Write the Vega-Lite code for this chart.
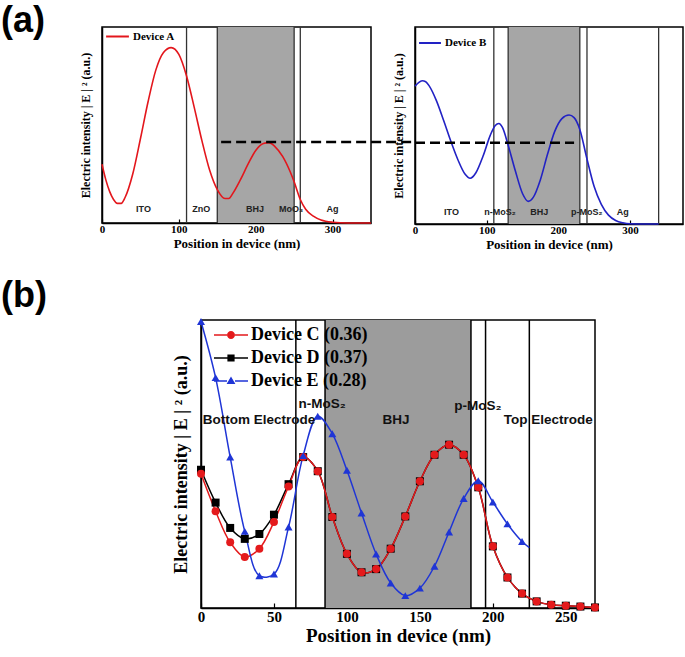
{
  "$schema": "https://vega.github.io/schema/vega-lite/v6.json",
  "padding": {"left": 1, "top": 3, "right": 0, "bottom": 0},
  "background": "white",
  "config": {
    "view": {"stroke": "black", "strokeWidth": 1.5},
    "axis": {"grid": false, "domainColor": "black", "domainWidth": 1.5, "tickColor": "black", "tickWidth": 1.2,
      "labelFont": "Liberation Serif", "labelFontWeight": "bold", "labelColor": "black",
      "titleFont": "Liberation Serif", "titleFontWeight": "bold", "titleColor": "black", "labelAngle": 0, "labelFlush": false, "labelOverlap": false}
  },
  "datasets": {
    "devA": [
      {"device": "Device A", "x": 0, "y": 0.30}, {"device": "Device A", "x": 5, "y": 0.22}, {"device": "Device A", "x": 10, "y": 0.16},
      {"device": "Device A", "x": 15, "y": 0.12}, {"device": "Device A", "x": 20, "y": 0.10}, {"device": "Device A", "x": 25, "y": 0.10},
      {"device": "Device A", "x": 30, "y": 0.13}, {"device": "Device A", "x": 40, "y": 0.25}, {"device": "Device A", "x": 50, "y": 0.43},
      {"device": "Device A", "x": 60, "y": 0.62}, {"device": "Device A", "x": 70, "y": 0.78}, {"device": "Device A", "x": 80, "y": 0.87},
      {"device": "Device A", "x": 90, "y": 0.895}, {"device": "Device A", "x": 100, "y": 0.86}, {"device": "Device A", "x": 110, "y": 0.75},
      {"device": "Device A", "x": 120, "y": 0.59}, {"device": "Device A", "x": 130, "y": 0.42}, {"device": "Device A", "x": 140, "y": 0.27},
      {"device": "Device A", "x": 150, "y": 0.17}, {"device": "Device A", "x": 160, "y": 0.125}, {"device": "Device A", "x": 165, "y": 0.125},
      {"device": "Device A", "x": 170, "y": 0.15}, {"device": "Device A", "x": 180, "y": 0.22}, {"device": "Device A", "x": 190, "y": 0.30},
      {"device": "Device A", "x": 200, "y": 0.37}, {"device": "Device A", "x": 210, "y": 0.405}, {"device": "Device A", "x": 217, "y": 0.41},
      {"device": "Device A", "x": 225, "y": 0.39}, {"device": "Device A", "x": 235, "y": 0.34}, {"device": "Device A", "x": 245, "y": 0.26},
      {"device": "Device A", "x": 250, "y": 0.21}, {"device": "Device A", "x": 258, "y": 0.12}, {"device": "Device A", "x": 265, "y": 0.07},
      {"device": "Device A", "x": 275, "y": 0.035}, {"device": "Device A", "x": 285, "y": 0.015}, {"device": "Device A", "x": 300, "y": 0.004},
      {"device": "Device A", "x": 320, "y": 0.0}, {"device": "Device A", "x": 350, "y": 0.0}
    ],
    "devB": [
      {"device": "Device B", "x": 0, "y": 0.70}, {"device": "Device B", "x": 5, "y": 0.718}, {"device": "Device B", "x": 10, "y": 0.727},
      {"device": "Device B", "x": 15, "y": 0.722}, {"device": "Device B", "x": 20, "y": 0.70}, {"device": "Device B", "x": 30, "y": 0.625},
      {"device": "Device B", "x": 40, "y": 0.525}, {"device": "Device B", "x": 50, "y": 0.42}, {"device": "Device B", "x": 60, "y": 0.325},
      {"device": "Device B", "x": 70, "y": 0.252}, {"device": "Device B", "x": 77, "y": 0.232}, {"device": "Device B", "x": 85, "y": 0.26},
      {"device": "Device B", "x": 95, "y": 0.345}, {"device": "Device B", "x": 105, "y": 0.45}, {"device": "Device B", "x": 112, "y": 0.50},
      {"device": "Device B", "x": 117, "y": 0.51}, {"device": "Device B", "x": 122, "y": 0.49}, {"device": "Device B", "x": 130, "y": 0.40},
      {"device": "Device B", "x": 140, "y": 0.27}, {"device": "Device B", "x": 150, "y": 0.155}, {"device": "Device B", "x": 158, "y": 0.115},
      {"device": "Device B", "x": 165, "y": 0.135}, {"device": "Device B", "x": 175, "y": 0.225}, {"device": "Device B", "x": 185, "y": 0.355},
      {"device": "Device B", "x": 195, "y": 0.47}, {"device": "Device B", "x": 205, "y": 0.535}, {"device": "Device B", "x": 215, "y": 0.553},
      {"device": "Device B", "x": 222, "y": 0.54}, {"device": "Device B", "x": 230, "y": 0.48}, {"device": "Device B", "x": 240, "y": 0.33},
      {"device": "Device B", "x": 250, "y": 0.19}, {"device": "Device B", "x": 260, "y": 0.10}, {"device": "Device B", "x": 270, "y": 0.045},
      {"device": "Device B", "x": 280, "y": 0.018}, {"device": "Device B", "x": 290, "y": 0.006}, {"device": "Device B", "x": 300, "y": 0.001},
      {"device": "Device B", "x": 320, "y": 0.0}, {"device": "Device B", "x": 340, "y": 0.0}
    ],
    "devP": [
      {"device": "Device D (0.37)", "x": 0, "y": 0.48}, {"device": "Device D (0.37)", "x": 10, "y": 0.366}, {"device": "Device D (0.37)", "x": 20, "y": 0.278},
      {"device": "Device D (0.37)", "x": 30, "y": 0.24}, {"device": "Device D (0.37)", "x": 40, "y": 0.257}, {"device": "Device D (0.37)", "x": 50, "y": 0.324},
      {"device": "Device D (0.37)", "x": 60, "y": 0.43}, {"device": "Device D (0.37)", "x": 70, "y": 0.524}, {"device": "Device D (0.37)", "x": 80, "y": 0.475},
      {"device": "Device D (0.37)", "x": 90, "y": 0.316}, {"device": "Device D (0.37)", "x": 100, "y": 0.188}, {"device": "Device D (0.37)", "x": 110, "y": 0.124},
      {"device": "Device D (0.37)", "x": 120, "y": 0.135}, {"device": "Device D (0.37)", "x": 130, "y": 0.206}, {"device": "Device D (0.37)", "x": 140, "y": 0.318},
      {"device": "Device D (0.37)", "x": 150, "y": 0.44}, {"device": "Device D (0.37)", "x": 160, "y": 0.532}, {"device": "Device D (0.37)", "x": 170, "y": 0.567},
      {"device": "Device D (0.37)", "x": 180, "y": 0.532}, {"device": "Device D (0.37)", "x": 190, "y": 0.419}, {"device": "Device D (0.37)", "x": 200, "y": 0.214},
      {"device": "Device D (0.37)", "x": 210, "y": 0.106}, {"device": "Device D (0.37)", "x": 220, "y": 0.05}, {"device": "Device D (0.37)", "x": 230, "y": 0.023},
      {"device": "Device D (0.37)", "x": 240, "y": 0.011}, {"device": "Device D (0.37)", "x": 250, "y": 0.008}, {"device": "Device D (0.37)", "x": 260, "y": 0.005},
      {"device": "Device D (0.37)", "x": 270, "y": 0.002},
      {"device": "Device C (0.36)", "x": 0, "y": 0.466}, {"device": "Device C (0.36)", "x": 10, "y": 0.336}, {"device": "Device C (0.36)", "x": 20, "y": 0.228},
      {"device": "Device C (0.36)", "x": 30, "y": 0.177}, {"device": "Device C (0.36)", "x": 40, "y": 0.206}, {"device": "Device C (0.36)", "x": 50, "y": 0.299},
      {"device": "Device C (0.36)", "x": 60, "y": 0.422}, {"device": "Device C (0.36)", "x": 70, "y": 0.524}, {"device": "Device C (0.36)", "x": 80, "y": 0.475},
      {"device": "Device C (0.36)", "x": 90, "y": 0.316}, {"device": "Device C (0.36)", "x": 100, "y": 0.188}, {"device": "Device C (0.36)", "x": 110, "y": 0.124},
      {"device": "Device C (0.36)", "x": 120, "y": 0.135}, {"device": "Device C (0.36)", "x": 130, "y": 0.206}, {"device": "Device C (0.36)", "x": 140, "y": 0.318},
      {"device": "Device C (0.36)", "x": 150, "y": 0.44}, {"device": "Device C (0.36)", "x": 160, "y": 0.532}, {"device": "Device C (0.36)", "x": 170, "y": 0.567},
      {"device": "Device C (0.36)", "x": 180, "y": 0.532}, {"device": "Device C (0.36)", "x": 190, "y": 0.419}, {"device": "Device C (0.36)", "x": 200, "y": 0.214},
      {"device": "Device C (0.36)", "x": 210, "y": 0.106}, {"device": "Device C (0.36)", "x": 220, "y": 0.05}, {"device": "Device C (0.36)", "x": 230, "y": 0.023},
      {"device": "Device C (0.36)", "x": 240, "y": 0.011}, {"device": "Device C (0.36)", "x": 250, "y": 0.008}, {"device": "Device C (0.36)", "x": 260, "y": 0.005},
      {"device": "Device C (0.36)", "x": 270, "y": 0.002},
      {"device": "Device E (0.28)", "x": 0, "y": 0.995}, {"device": "Device E (0.28)", "x": 10, "y": 0.80}, {"device": "Device E (0.28)", "x": 20, "y": 0.524},
      {"device": "Device E (0.28)", "x": 30, "y": 0.266}, {"device": "Device E (0.28)", "x": 40, "y": 0.112}, {"device": "Device E (0.28)", "x": 50, "y": 0.118},
      {"device": "Device E (0.28)", "x": 60, "y": 0.281}, {"device": "Device E (0.28)", "x": 70, "y": 0.529}, {"device": "Device E (0.28)", "x": 80, "y": 0.666},
      {"device": "Device E (0.28)", "x": 90, "y": 0.605}, {"device": "Device E (0.28)", "x": 100, "y": 0.478}, {"device": "Device E (0.28)", "x": 110, "y": 0.33},
      {"device": "Device E (0.28)", "x": 120, "y": 0.1875}, {"device": "Device E (0.28)", "x": 130, "y": 0.087}, {"device": "Device E (0.28)", "x": 140, "y": 0.043},
      {"device": "Device E (0.28)", "x": 150, "y": 0.069}, {"device": "Device E (0.28)", "x": 160, "y": 0.145}, {"device": "Device E (0.28)", "x": 170, "y": 0.264},
      {"device": "Device E (0.28)", "x": 180, "y": 0.38}, {"device": "Device E (0.28)", "x": 190, "y": 0.442}, {"device": "Device E (0.28)", "x": 200, "y": 0.368},
      {"device": "Device E (0.28)", "x": 210, "y": 0.292}, {"device": "Device E (0.28)", "x": 220, "y": 0.231}, {"device": "Device E (0.28)", "x": 225, "y": 0.21}
    ],
    "regA": [{"label": "ITO", "x": 54}, {"label": "ZnO", "x": 129}, {"label": "BHJ", "x": 199}, {"label": "MoO₃", "x": 246}, {"label": "Ag", "x": 300}],
    "regB": [{"label": "ITO", "x": 51}, {"label": "n-MoS₂", "x": 118.6}, {"label": "BHJ", "x": 173.5}, {"label": "p-MoS₂", "x": 239.6}, {"label": "Ag", "x": 290}],
    "regP": [{"label": "Bottom Electrode", "x": 39.8, "y": 0.652}, {"label": "n-MoS₂", "x": 83, "y": 0.709}, {"label": "BHJ", "x": 133.6, "y": 0.652}, {"label": "p-MoS₂", "x": 189.7, "y": 0.701}, {"label": "Top Electrode", "x": 238, "y": 0.654}]
  },
  "spacing": 26,
  "resolve": {"scale": {"color": "independent", "shape": "independent"}, "legend": {"color": "independent", "shape": "independent"}},
  "vconcat": [
    {
      "resolve": {"scale": {"color": "independent"}, "legend": {"color": "independent"}},
      "spacing": 44,
      "bounds": "flush",
      "hconcat": [
        {
          "width": 57, "height": 196,
          "view": {"stroke": null},
          "data": {"values": [{}]},
          "mark": {"type": "text", "font": "Liberation Sans", "fontWeight": "bold", "fontSize": 36, "align": "left", "baseline": "top", "clip": false, "color": "black"},
          "encoding": {
            "x": {"datum": 0, "type": "quantitative", "scale": {"domain": [0, 1]}, "axis": null},
            "y": {"datum": 1.117, "type": "quantitative", "scale": {"domain": [0, 1]}, "axis": null},
            "text": {"value": "(a)"}}
        },
        {
          "width": 269, "height": 196,
          "layer": [
            {"data": {"values": [{"start": 150, "end": 250}]}, "mark": {"type": "rect", "fill": "#a6a6a6"},
             "encoding": {"x": {"field": "start", "type": "quantitative", "scale": {"domain": [0, 350], "nice": false},
                "axis": {"title": "Position in device (nm)", "values": [0, 25, 50, 75, 100, 125, 150, 175, 200, 225, 250, 275, 300, 325, 350],
                  "labelExpr": "datum.value % 50 === 0 ? datum.label : ''", "labelOverlap": false, "tickSize": -4, "labelFontSize": 11, "titleFontSize": 13, "labelPadding": 4, "titlePadding": 3}},
               "x2": {"field": "end"}}},
            {"data": {"values": [{"pos": 110}, {"pos": 150}, {"pos": 250}, {"pos": 258}]}, "mark": {"type": "rule", "color": "#333333", "strokeWidth": 1.3},
             "encoding": {"x": {"field": "pos", "type": "quantitative"}}},
            {"data": {"name": "devA"}, "mark": {"type": "line", "strokeWidth": 1.6, "interpolate": "monotone"},
             "encoding": {"x": {"field": "x", "type": "quantitative"},
               "y": {"field": "y", "type": "quantitative", "scale": {"domain": [0, 1], "nice": false},
                 "axis": {"title": "Electric intensity | E | ² (a.u.)", "labels": false, "ticks": false, "titleFontSize": 12, "titlePadding": 10}},
               "color": {"field": "device", "type": "nominal", "scale": {"domain": ["Device A"], "range": ["#e3161c"]},
                 "legend": {"title": null, "orient": "none", "legendX": 3, "legendY": -3, "symbolType": "stroke", "symbolSize": 520, "symbolStrokeWidth": 2,
                   "labelFont": "Liberation Serif", "labelFontWeight": "bold", "labelFontSize": 11, "labelColor": "black", "labelOffset": 3, "padding": 0}}}},
            {"data": {"values": [{"level": 0.413, "from": 155, "to": 408}]}, "mark": {"type": "rule", "strokeDash": [10, 5], "strokeWidth": 2.5, "color": "black", "clip": false},
             "encoding": {"x": {"field": "from", "type": "quantitative"}, "x2": {"field": "to"}, "y": {"field": "level", "type": "quantitative"}}},
            {"data": {"name": "regA"}, "mark": {"type": "text", "font": "Liberation Sans", "fontWeight": "bold", "fontSize": 9, "color": "#222222"},
             "encoding": {"x": {"field": "x", "type": "quantitative"}, "y": {"datum": 0.07}, "text": {"field": "label"}}}
          ]
        },
        {
          "width": 268, "height": 197,
          "layer": [
            {"data": {"values": [{"start": 130, "end": 230}]}, "mark": {"type": "rect", "fill": "#a6a6a6"},
             "encoding": {"x": {"field": "start", "type": "quantitative", "scale": {"domain": [0, 374], "nice": false},
                "axis": {"title": "Position in device (nm)", "values": [0, 25, 50, 75, 100, 125, 150, 175, 200, 225, 250, 275, 300, 325, 350],
                  "labelExpr": "datum.value % 50 === 0 ? datum.label : ''", "labelOverlap": false, "tickSize": -4, "labelFontSize": 11, "titleFontSize": 13, "labelPadding": 4, "titlePadding": 3}},
               "x2": {"field": "end"}}},
            {"data": {"values": [{"pos": 110}, {"pos": 130}, {"pos": 230}, {"pos": 240}, {"pos": 340}]}, "mark": {"type": "rule", "color": "#333333", "strokeWidth": 1.3},
             "encoding": {"x": {"field": "pos", "type": "quantitative"}}},
            {"data": {"name": "devB"}, "mark": {"type": "line", "strokeWidth": 1.6, "interpolate": "monotone"},
             "encoding": {"x": {"field": "x", "type": "quantitative"},
               "y": {"field": "y", "type": "quantitative", "scale": {"domain": [0, 1], "nice": false},
                 "axis": {"title": "Electric intensity | E | ² (a.u.)", "labels": false, "ticks": false, "titleFontSize": 12, "titlePadding": 10}},
               "color": {"field": "device", "type": "nominal", "scale": {"domain": ["Device B"], "range": ["#2222c4"]},
                 "legend": {"title": null, "orient": "none", "legendX": 3, "legendY": 4, "symbolType": "stroke", "symbolSize": 480, "symbolStrokeWidth": 2,
                   "labelFont": "Liberation Serif", "labelFontWeight": "bold", "labelFontSize": 11, "labelColor": "black", "labelOffset": 3, "padding": 0}}}},
            {"data": {"values": [{"level": 0.413, "from": 0, "to": 222}]}, "mark": {"type": "rule", "strokeDash": [10, 5], "strokeWidth": 2.5, "color": "black", "clip": false},
             "encoding": {"x": {"field": "from", "type": "quantitative"}, "x2": {"field": "to"}, "y": {"field": "level", "type": "quantitative"}}},
            {"data": {"name": "regB"}, "mark": {"type": "text", "font": "Liberation Sans", "fontWeight": "bold", "fontSize": 9, "color": "#222222"},
             "encoding": {"x": {"field": "x", "type": "quantitative"}, "y": {"datum": 0.062}, "text": {"field": "label"}}}
          ]
        }
      ]
    },
    {
      "spacing": 50,
      "bounds": "flush",
      "hconcat": [
        {
          "width": 150, "height": 288,
          "view": {"stroke": null},
          "data": {"values": [{}]},
          "mark": {"type": "text", "font": "Liberation Sans", "fontWeight": "bold", "fontSize": 36, "align": "left", "baseline": "top", "clip": false, "color": "black"},
          "encoding": {
            "x": {"datum": 0, "type": "quantitative", "scale": {"domain": [0, 1]}, "axis": null},
            "y": {"datum": 1.142, "type": "quantitative", "scale": {"domain": [0, 1]}, "axis": null},
            "text": {"value": "(b)"}}
        },
        {
          "width": 394, "height": 288,
          "resolve": {"scale": {"shape": "independent", "color": "independent"}},
          "layer": [
            {"data": {"values": [{"start": 85, "end": 185}]}, "mark": {"type": "rect", "fill": "#9c9c9c"},
             "encoding": {"x": {"field": "start", "type": "quantitative", "scale": {"domain": [0, 270], "nice": false},
                "axis": {"title": "Position in device (nm)", "values": [0, 25, 50, 75, 100, 125, 150, 175, 200, 225, 250],
                  "labelExpr": "datum.value % 50 === 0 ? datum.label : ''", "labelOverlap": false, "tickSize": -5, "labelFontSize": 15, "titleFontSize": 19, "labelPadding": 6, "titlePadding": 2}},
               "x2": {"field": "end"}}},
            {"data": {"values": [{"pos": 65}, {"pos": 85}, {"pos": 185}, {"pos": 195}, {"pos": 225}]}, "mark": {"type": "rule", "color": "black", "strokeWidth": 1.5},
             "encoding": {"x": {"field": "pos", "type": "quantitative"}}},
            {"data": {"name": "devP"}, "mark": {"type": "line", "strokeWidth": 1.5, "interpolate": "catmull-rom"},
             "encoding": {"x": {"field": "x", "type": "quantitative"},
               "y": {"field": "y", "type": "quantitative", "scale": {"domain": [0, 1], "nice": false},
                 "axis": {"title": "Electric intensity | E | ² (a.u.)", "labels": false, "ticks": false, "titleFontSize": 18, "titlePadding": 11}},
               "color": {"field": "device", "type": "nominal", "scale": {"domain": ["Device C (0.36)", "Device D (0.37)", "Device E (0.28)"], "range": ["#e41a1c", "#000000", "#1f35d6"]}, "legend": null}}},
            {"data": {"name": "devP"}, "transform": [{"filter": "datum.x % 10 === 0"}],
             "mark": {"type": "point", "filled": true, "opacity": 1, "size": 64, "strokeWidth": 0},
             "encoding": {"x": {"field": "x", "type": "quantitative"}, "y": {"field": "y", "type": "quantitative"},
               "color": {"field": "device", "type": "nominal", "scale": {"domain": ["Device C (0.36)", "Device D (0.37)", "Device E (0.28)"], "range": ["#e41a1c", "#000000", "#1f35d6"]}, "legend": null},
               "shape": {"field": "device", "type": "nominal", "scale": {"domain": ["Device C (0.36)", "Device D (0.37)", "Device E (0.28)"], "range": ["circle", "square", "triangle-up"]}, "legend": null}}},
            {"data": {"name": "devP"}, "transform": [{"filter": "false"}],
             "mark": {"type": "point", "filled": true, "opacity": 1, "size": 64},
             "encoding": {"x": {"field": "x", "type": "quantitative"}, "y": {"field": "y", "type": "quantitative"},
               "color": {"field": "device", "type": "nominal",
                 "scale": {"domain": ["Device C (0.36)", "Device D (0.37)", "Device E (0.28)"], "range": ["#e41a1c", "#000000", "#1f35d6"]},
                 "legend": {"title": null, "orient": "none", "legendX": 21, "legendY": 6, "symbolSize": 64, "symbolStrokeWidth": 0, "symbolOpacity": 1, "symbolFillColor": "#e41a1c",
                   "labelFont": "Liberation Serif", "labelFontWeight": "bold", "labelFontSize": 18, "labelColor": "black", "labelOffset": 11, "rowPadding": 5, "padding": 0, "labelLimit": 300}},
               "shape": {"field": "device", "type": "nominal",
                 "scale": {"domain": ["Device C (0.36)", "Device D (0.37)", "Device E (0.28)"],
                   "range": ["M-4.25,-0.2H-1V0.2H-4.25Z M1,-0.2H4.25V0.2H1Z M1,0A1,1 0 1,1 -1,0A1,1 0 1,1 1,0Z",
                             "M-4.25,-0.2H-0.9V0.2H-4.25Z M0.9,-0.2H4.25V0.2H0.9Z M-0.9,-0.9H0.9V0.9H-0.9Z",
                             "M-4.25,-0.2H-1V0.2H-4.25Z M1,-0.2H4.25V0.2H1Z M0,-1.15L1.1,0.75H-1.1Z"]},
                 "legend": {"title": null, "orient": "none", "legendX": 21, "legendY": 6, "symbolSize": 64, "symbolStrokeWidth": 0, "symbolOpacity": 1, "symbolFillColor": "#e41a1c",
                   "labelFont": "Liberation Serif", "labelFontWeight": "bold", "labelFontSize": 18, "labelColor": "black", "labelOffset": 11, "rowPadding": 5, "padding": 0, "labelLimit": 300}}}},
            {"data": {"name": "regP"}, "mark": {"type": "text", "font": "Liberation Sans", "fontWeight": "bold", "fontSize": 13.5, "color": "#111111"},
             "encoding": {"x": {"field": "x", "type": "quantitative"}, "y": {"field": "y", "type": "quantitative"}, "text": {"field": "label"}}}
          ]
        }
      ]
    }
  ]
}
